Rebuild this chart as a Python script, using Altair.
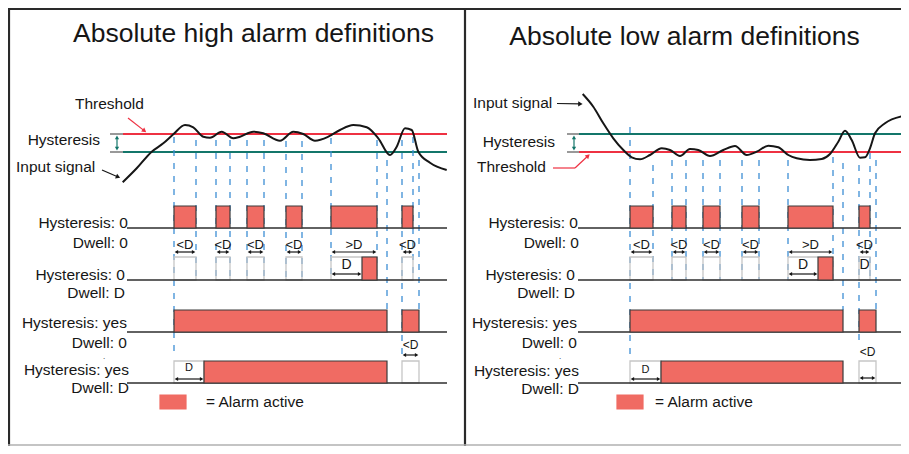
import math
import altair as alt
import pandas as pd

# ---------------- data (diagram units: time along x, level along y) ----------------
titles = ["Absolute high alarm definitions", "Absolute low alarm definitions"]
title_pos = [(253.5, 34), (684.5, 37)]

# input signal traces
hi_sig_t = [122.7, 136.7, 151.7, 163.3, 173.3, 185, 193.3, 203.3, 210, 221.7, 233.3, 240, 253.3, 263.3,
            280, 293.3, 303.3, 315, 328.3, 340, 353.3, 366.7, 378.3, 390, 396.7, 405, 411.7, 418.3, 430, 446.7]
hi_sig_v = [182.3, 168.3, 151.7, 143.3, 134.3, 125, 127.3, 136.7, 137.7, 131.7, 138.3, 136.7, 131.7, 133.3,
            140.7, 131.7, 134, 140.7, 136.7, 130, 125, 127.3, 138.3, 155, 146.7, 128.3, 130, 151.7, 162.7, 170]
lo_sig_t = [582.7, 593.3, 603.3, 613.3, 623.3, 631.7, 640, 650, 661.7, 670, 680, 690, 698.3, 710, 723.3,
            735, 746.7, 756.7, 768.3, 778.3, 788.3, 796.7, 810, 821.7, 830, 838.3, 845, 851.7, 860, 865,
            870, 875, 885, 903.3]
lo_sig_v = [94, 106.7, 123.3, 138.3, 150, 157.3, 159.3, 155, 148.3, 150, 156, 149, 150, 156, 150,
            146, 155, 151.7, 145.7, 147.3, 155, 158.3, 160, 159, 154, 141.7, 130.7, 140, 157.7, 157.3,
            148.3, 133.3, 123.3, 116]

# threshold / hysteresis levels and line spans
hi_threshold, hi_hyst_level = 134, 152
lo_hyst_level, lo_threshold = 134, 152
hi_span = (123, 447)
lo_span = (579, 903)

# crossing instants and dashed guide extents
hi_cross_t = [174, 196, 216, 230, 247, 264, 286, 302, 331, 377, 387, 402, 413, 419]
hi_dash_top = [137, 140, 140, 140, 140, 140, 141, 141, 138, 140, 160, 140, 137, 160]
hi_dash_bot = [352, 280, 280, 280, 280, 280, 280, 280, 280, 280, 310, 355, 280, 310]
lo_cross_t = [630, 653, 672, 686, 703, 720, 742, 759, 788, 833, 843, 859, 870, 876]
lo_dash_top = [127, 165, 160, 160, 160, 160, 160, 160, 160, 157, 163, 165, 153, 160]
lo_dash_bot = [357, 280, 280, 280, 280, 280, 280, 280, 280, 280, 310, 347, 280, 310]

# alarm state rows
row_base = [228, 280, 332, 383]
row_top = [206, 257, 310, 361]
hi_row_span = (127, 447)
lo_row_span = (578, 903)
hi_active = [
    [(174, 196), (216, 230), (247, 264), (286, 302), (331, 377), (402, 413)],
    [(362, 377)],
    [(174, 387), (402, 419)],
    [(204, 387)],
]
hi_ghost = [[], [(174, 196), (216, 230), (247, 264), (286, 302), (331, 377), (402, 413)], [],
            [(174, 204), (402, 419)]]
lo_active = [
    [(630, 653), (672, 686), (703, 720), (742, 759), (788, 833), (859, 870)],
    [(818, 833)],
    [(630, 843), (859, 876)],
    [(661, 843)],
]
lo_ghost = [[], [(630, 653), (672, 686), (703, 720), (742, 759), (788, 833), (859, 870)], [],
            [(630, 661), (859, 876)]]

# dwell markers: (t1, t2, arrow level, label, label level, label size)
hi_marks = [(174, 196, 252, "<D", 245, 13), (216, 230, 252, "<D", 245, 13), (247, 264, 252, "<D", 245, 13),
            (286, 302, 252, "<D", 245, 13), (331, 377, 252, ">D", 245, 13), (402, 413, 252, "<D", 245, 13),
            (331, 362, 274, "D", 265, 14), (402, 419, 355, "<D", 345, 12), (174, 204, 379, "D", 368, 11)]
lo_marks = [(630, 653, 252, "<D", 245, 13), (672, 686, 252, "<D", 245, 13), (703, 720, 252, "<D", 245, 13),
            (742, 759, 252, "<D", 245, 13), (788, 833, 252, ">D", 245, 13), (859, 870, 252, "<D", 245, 13),
            (788, 818, 274, "D", 265, 14), (630, 661, 379, "D", 370, 11), (859, 876, 378, "<D", 352, 12)]

row_labels = ["Hysteresis: 0", "Dwell: 0", "Hysteresis: 0", "Dwell: D",
              "Hysteresis: yes", "Dwell: 0", "Hysteresis: yes", "Dwell: D"]
hi_label_pos = [(128, 223), (128, 243), (125, 275), (125, 293), (127, 323), (127, 343), (129, 370), (129, 388)]
lo_label_pos = [(578, 223), (579, 243), (575, 275), (575, 293), (577, 323), (577, 343), (579, 371), (579, 389)]

legend_text = "= Alarm active"

# ---------------- styling ----------------
RED = "#ee3142"
TEAL = "#13766a"
PULSE = "#f06b63"
DASH = "#3d8ed4"
INK = "#161616"
FONT = "Liberation Sans"

XS = alt.Scale(domain=[8, 901], nice=False, zero=False)
YS = alt.Scale(domain=[8, 446], nice=False, zero=False, reverse=True)


def X(f="x"):
    return alt.X(f"{f}:Q", scale=XS, axis=None)


def Y(f="y"):
    return alt.Y(f"{f}:Q", scale=YS, axis=None)


def rules(rows, dash=None):
    df = pd.DataFrame(rows, columns=["x", "y", "x2", "y2", "c", "w"])
    kw = {}
    if dash:
        kw["strokeDash"] = dash
    return alt.Chart(df).mark_rule(**kw).encode(
        x=X(), y=Y(), x2="x2:Q", y2="y2:Q",
        color=alt.Color("c:N", scale=None),
        strokeWidth=alt.StrokeWidth("w:Q", scale=None))


# ---- structural lines ----
solid = []
# frame
solid += [(9, 9, 901, 9, "#2a2a2a", 2), (9, 8, 9, 446, "#2a2a2a", 2.2), (465, 8, 465, 446, "#2a2a2a", 2.2),
          (8, 445, 901, 445, "#b0b0b0", 1.5)]
# threshold & hysteresis lines
solid += [(hi_span[0], hi_threshold, hi_span[1], hi_threshold, RED, 2),
          (hi_span[0], hi_hyst_level, hi_span[1], hi_hyst_level, TEAL, 2),
          (lo_span[0], lo_hyst_level, lo_span[1], lo_hyst_level, TEAL, 2),
          (lo_span[0], lo_threshold, lo_span[1], lo_threshold, RED, 2)]
for lvl in (hi_threshold, hi_hyst_level):
    solid.append((hi_span[0] - 13, lvl, hi_span[0], lvl, "#555555", 1.2))
for lvl in (lo_hyst_level, lo_threshold):
    solid.append((lo_span[0] - 12, lvl, lo_span[0], lvl, "#555555", 1.2))

dashed = []
for t, a, b in zip(hi_cross_t, hi_dash_top, hi_dash_bot):
    dashed.append((t, a, t, b, DASH, 1.3))
for t, a, b in zip(lo_cross_t, lo_dash_top, lo_dash_bot):
    dashed.append((t, a, t, b, DASH, 1.3))

baselines = []
for yb in row_base:
    baselines.append((hi_row_span[0], yb, hi_row_span[1], yb, "#2e2e2e", 1.5))
    baselines.append((lo_row_span[0], yb, lo_row_span[1], yb, "#2e2e2e", 1.5))

# ---- rectangles ----
ghost_rows, pulse_rows = [], []
for ghosts, actives in ((hi_ghost, hi_active), (lo_ghost, lo_active)):
    for r in range(4):
        for a, b in ghosts[r]:
            ghost_rows.append((a, row_top[r], b, row_base[r]))
        for a, b in actives[r]:
            pulse_rows.append((a, row_top[r], b, row_base[r]))
legend_rects = [(160, 395, 186, 409), (617, 395, 643, 409)]

ghost_df = pd.DataFrame(ghost_rows, columns=["x", "y", "x2", "y2"])
pulse_df = pd.DataFrame(pulse_rows + legend_rects, columns=["x", "y", "x2", "y2"])
pulse_df["s"] = ["#3b3b3b"] * len(pulse_rows) + [PULSE] * len(legend_rects)

ghost_layer = alt.Chart(ghost_df).mark_rect(fillOpacity=0, stroke="#c6c6c6", strokeWidth=1.3).encode(
    x=X(), y=Y(), x2="x2:Q", y2="y2:Q")
pulse_layer = alt.Chart(pulse_df).mark_rect(fill=PULSE, strokeWidth=1.2).encode(
    x=X(), y=Y(), x2="x2:Q", y2="y2:Q", stroke=alt.Stroke("s:N", scale=None))

# ---- arrows ----
shafts, heads = [], []


def arrow(x1, y1, x2, y2, color, both=False, back=2.6, size=22, width=1.2):
    dx, dy = x2 - x1, y2 - y1
    L = math.hypot(dx, dy)
    ux, uy = dx / L, dy / L
    sx1, sy1 = (x1 + ux * back, y1 + uy * back) if both else (x1, y1)
    shafts.append((sx1, sy1, x2 - ux * back, y2 - uy * back, color, width))
    ang = math.degrees(math.atan2(dx, -dy)) % 360
    heads.append((x2 - ux * back, y2 - uy * back, ang, color, size))
    if both:
        heads.append((x1 + ux * back, y1 + uy * back, (ang + 180) % 360, color, size))


arrow(117, 135, 117, 151, TEAL, both=True, back=2.4, size=18)
arrow(574, 135, 574, 151, TEAL, both=True, back=2.4, size=18)
arrow(128, 118, 146.5, 132.5, RED, size=26)
arrow(102, 170, 120.5, 178, INK, size=26)
arrow(557, 103.5, 583, 104, INK, size=26)
shafts.append((553, 168, 575, 168, RED, 1.2))
arrow(575, 168, 590, 154, RED, size=26)

texts_c = []
for marks in (hi_marks, lo_marks):
    for a, b, lvl, lab, ly, sz in marks:
        arrow(a, lvl, b, lvl, INK, both=True, back=2.4, size=16)
        texts_c.append(((a + b) / 2, ly, lab, sz))
texts_c.append((864.5, 265, "D", 14))
for t, (x, y) in zip(titles, title_pos):
    texts_c.append((x, y, t, 26.5))

shaft_layer = rules(shafts)
head_df = pd.DataFrame(heads, columns=["x", "y", "a", "c", "sz"])
head_layer = alt.Chart(head_df).mark_point(shape="triangle-up", filled=True, opacity=1, strokeWidth=0).encode(
    x=X(), y=Y(), angle=alt.Angle("a:Q", scale=None), color=alt.Color("c:N", scale=None),
    size=alt.Size("sz:Q", scale=None))

# ---- signal curves ----
sig_rows = [(t, v, "high", i) for i, (t, v) in enumerate(zip(hi_sig_t, hi_sig_v))]
sig_rows += [(t, v, "low", i) for i, (t, v) in enumerate(zip(lo_sig_t, lo_sig_v))]
sig_df = pd.DataFrame(sig_rows, columns=["x", "y", "panel", "i"])
sig_layer = alt.Chart(sig_df).mark_line(interpolate="monotone", color=INK, strokeWidth=2).encode(
    x=X(), y=Y(), detail="panel:N", order="i:Q")

# ---- text ----
texts_l = [(75, 104, "Threshold", 15.5), (16, 167, "Input signal", 15.5),
           (473, 103, "Input signal", 15.5), (477, 167, "Threshold", 15.5),
           (206, 402, legend_text, 15.5), (655, 402, legend_text, 15.5)]
texts_r = [(100, 140, "Hysteresis", 15.5), (555, 142, "Hysteresis", 15.5)]
for lab, (x, y) in zip(row_labels, hi_label_pos):
    texts_r.append((x, y, lab, 15.5))
for lab, (x, y) in zip(row_labels, lo_label_pos):
    texts_r.append((x, y, lab, 15.5))
texts_c += [(104, 357, ".", 8), (560, 357, ".", 8)]


def text_layer(rows, align):
    df = pd.DataFrame(rows, columns=["x", "y", "t", "s"])
    return alt.Chart(df).mark_text(font=FONT, align=align, baseline="middle", color=INK).encode(
        x=X(), y=Y(), text="t:N", size=alt.Size("s:Q", scale=None))


chart = alt.layer(
    rules(solid),
    rules(dashed, dash=[6, 7]),
    ghost_layer,
    rules(baselines),
    pulse_layer,
    sig_layer,
    shaft_layer,
    head_layer,
    text_layer(texts_l, "left"),
    text_layer(texts_r, "right"),
    text_layer(texts_c, "center"),
).properties(
    width=893, height=438,
    autosize=alt.AutoSizeParams(type="none"),
    padding=0,
    background="white",
).configure_view(strokeWidth=0)

chart.save("out.html", embed_options={"renderer": "svg", "actions": False})
